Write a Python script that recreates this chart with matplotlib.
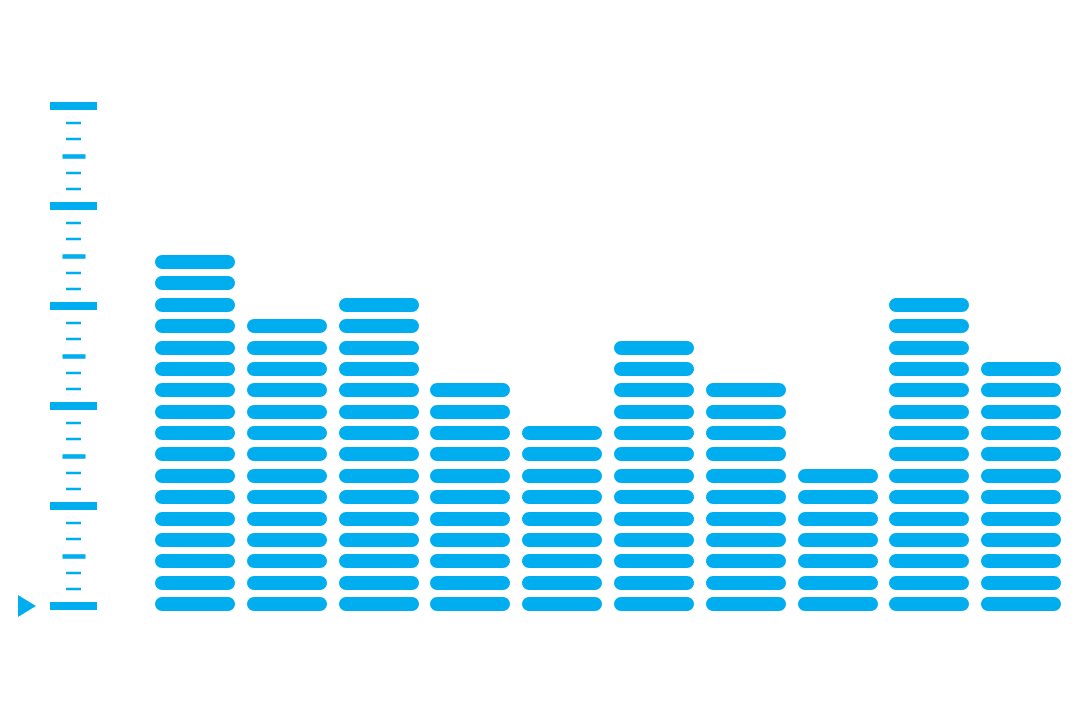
import matplotlib
matplotlib.use("Agg")
import matplotlib.pyplot as plt

# segments per column
columns = list(range(10))
levels = [17, 14, 15, 11, 9, 13, 11, 7, 15, 12]

# decorative scale on the left: 0..30, major every 10 (6 small steps)
scale_max = 30

blue = "#00AEEF"
W, H, DPI = 1080, 720, 100

fig = plt.figure(figsize=(W / DPI, H / DPI), dpi=DPI)
fig.patch.set_facecolor("white")

# main axes: x in column units, y in segment units
ax = fig.add_axes([0, 0, 1, 1])
col_px = 91.8
seg_px = 21.375
ax.set_xlim(-195 / col_px, (W - 195) / col_px)
ax.set_ylim(-116 / seg_px, (H - 116) / seg_px)
ax.axis("off")

seg_h = 14  # px
px2pt = 72 / DPI
half = (80 - seg_h) / 2 / col_px
for c, n in zip(columns, levels):
    for k in range(n):
        ax.plot([c - half, c + half], [k, k], color=blue,
                lw=seg_h * px2pt, solid_capstyle="round")

# scale axes: x in pixels, y in scale units
sc = fig.add_axes([0, 0, 1, 1], facecolor="none")
u = scale_max / 500
sc.set_xlim(0, W)
sc.set_ylim(-(H - 606) * u, scale_max + 106 * u)
sc.axis("off")

for v in range(scale_max + 1):
    if v % 6 == 0:
        x0, x1, h = 50, 97, 8
    elif v % 3 == 0:
        x0, x1, h = 62, 85, 4.5
    else:
        x0, x1, h = 66, 81, 2.5
    sc.plot([x0, x1], [v, v], color=blue, lw=h * px2pt, solid_capstyle="butt")

sc.fill([18, 18, 36], [-11 * u, 11 * u, 0], color=blue, lw=0)

fig.savefig("out.png", dpi=DPI, facecolor="white")
